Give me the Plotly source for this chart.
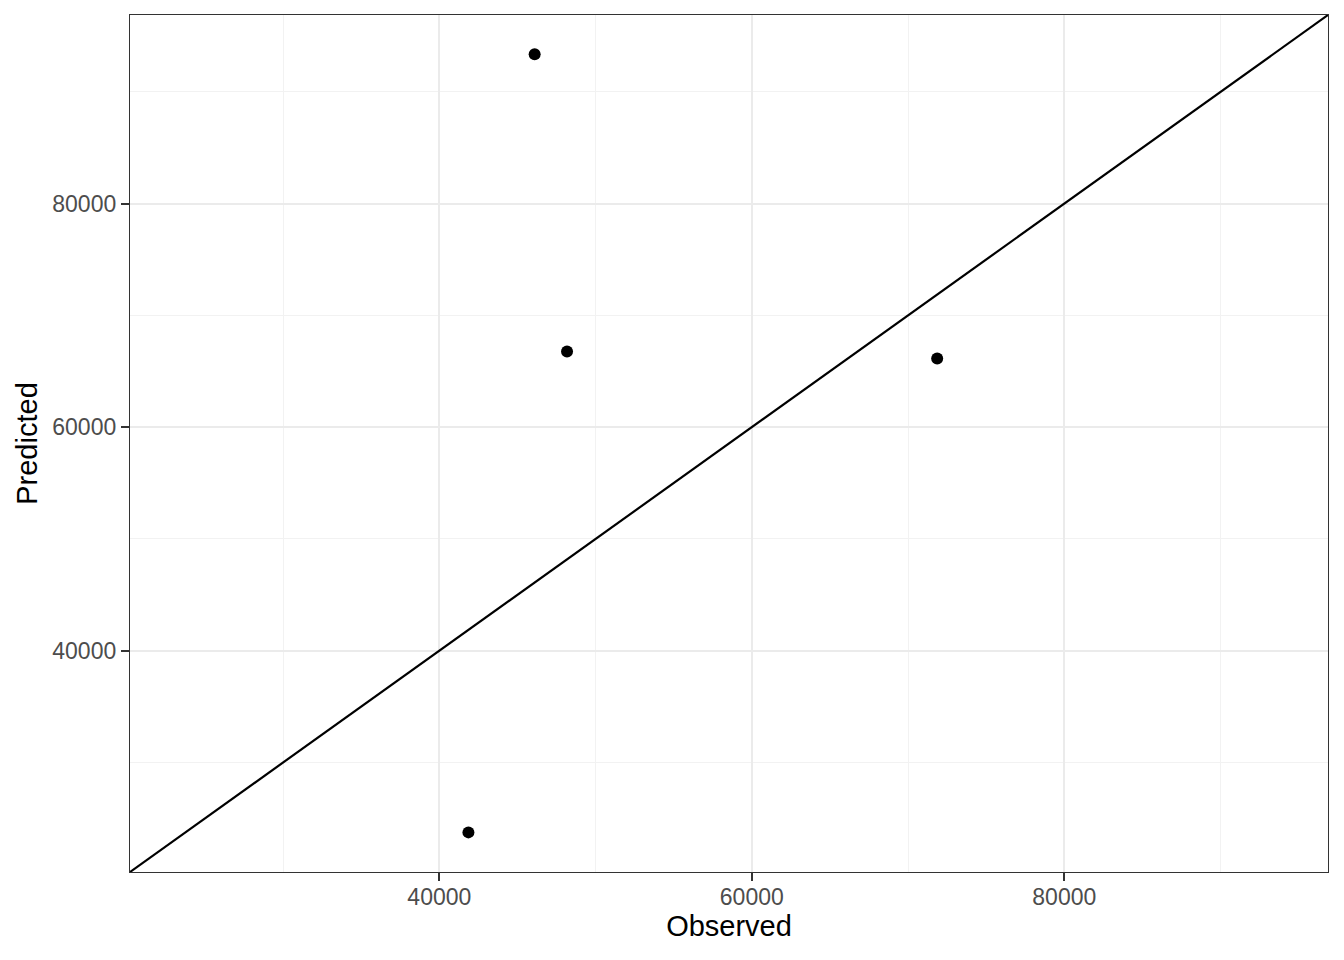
import plotly.graph_objects as go

observed = [41862, 46100, 48173, 71865]
predicted = [23745, 93375, 66777, 66152]
x_ticks = [40000, 60000, 80000]
y_ticks = [40000, 60000, 80000]
identity = [0, 120000]

FONT = "Liberation Sans, Arial, sans-serif"
AXIS_RANGE = [20200, 96880]

fig = go.Figure()
fig.add_trace(go.Scatter(x=identity, y=identity, mode="lines",
                         line=dict(color="black", width=2.2), showlegend=False, hoverinfo="skip"))
fig.add_trace(go.Scatter(x=observed, y=predicted, mode="markers",
                         marker=dict(color="black", size=12), showlegend=False))

axis_common = dict(
    showline=True, linecolor="#333333", linewidth=1.3, mirror=True,
    showgrid=True, gridcolor="#EBEBEB", gridwidth=1.6,
    ticks="outside", ticklen=8, tickwidth=2, tickcolor="#333333",
    tickfont=dict(family=FONT, size=23, color="#4D4D4D"),
    zeroline=False,
    minor=dict(dtick=10000, showgrid=True, gridcolor="#F2F2F2", gridwidth=0.9, ticks=""),
)

fig.update_layout(
    width=1328, height=944,
    margin=dict(l=122, r=8, t=7, b=80),
    paper_bgcolor="white", plot_bgcolor="white",
    font=dict(family=FONT, color="black"),
    xaxis=dict(range=AXIS_RANGE, tickvals=x_ticks, ticktext=[str(v) for v in x_ticks],
               ticklabelstandoff=-4,
               title=dict(text="Observed", font=dict(size=29, color="black"), standoff=6),
               **axis_common),
    yaxis=dict(range=AXIS_RANGE, tickvals=y_ticks, ticktext=[str(v) for v in y_ticks],
               title=dict(text="Predicted", font=dict(size=29, color="black"), standoff=6),
               **axis_common),
)
fig.write_html("out.html")
